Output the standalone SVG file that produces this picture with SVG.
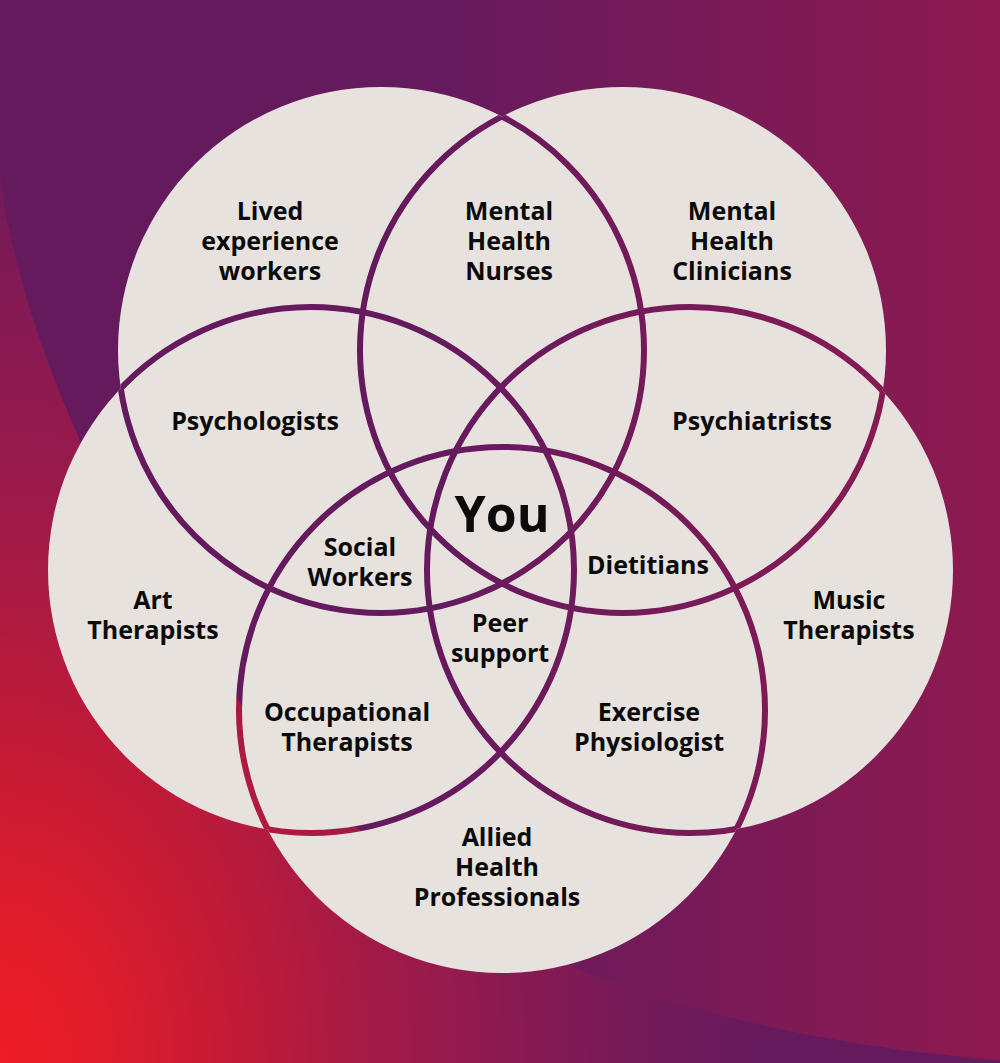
<svg xmlns="http://www.w3.org/2000/svg" width="1000" height="1063" viewBox="0 0 1000 1063">
  <style>
    .lbl { font-family: 'Open Sans', 'Noto Sans', 'DejaVu Sans', sans-serif; font-weight: 700; font-size: 25px; fill: #0b0b0b; text-anchor: middle; }
    .you { font-size: 50px; }
    .disk { fill: #E8E2DF; }
    .gap { fill: none; stroke: #000; stroke-width: 6; }
  </style>
  <defs>
    <linearGradient id="baseGrad" gradientUnits="userSpaceOnUse" x1="450" y1="0" x2="1000" y2="0">
      <stop offset="0" stop-color="#661A5E"/>
      <stop offset="1" stop-color="#8E1A50"/>
    </linearGradient>
    <radialGradient id="redGrad" gradientUnits="userSpaceOnUse" cx="0" cy="0" r="1" gradientTransform="translate(0 1063) scale(760 1050)">
      <stop offset="0" stop-color="#EE1C25"/>
      <stop offset="0.12" stop-color="#E21C2A"/>
      <stop offset="0.3" stop-color="#C41B36"/>
      <stop offset="0.5" stop-color="#A21A47"/>
      <stop offset="0.68" stop-color="#8A1A52"/>
      <stop offset="0.85" stop-color="#731A59"/>
      <stop offset="1" stop-color="#661A5E"/>
    </radialGradient>
    <clipPath id="notTL"><circle cx="623" cy="350" r="263"/><circle cx="311" cy="570" r="263"/><circle cx="690" cy="570" r="263"/><circle cx="502" cy="710" r="263"/></clipPath>
    <clipPath id="notTR"><circle cx="381" cy="350" r="263"/><circle cx="311" cy="570" r="263"/><circle cx="690" cy="570" r="263"/><circle cx="502" cy="710" r="263"/></clipPath>
    <clipPath id="notL"><circle cx="381" cy="350" r="263"/><circle cx="623" cy="350" r="263"/><circle cx="690" cy="570" r="263"/><circle cx="502" cy="710" r="263"/></clipPath>
    <clipPath id="notR"><circle cx="381" cy="350" r="263"/><circle cx="623" cy="350" r="263"/><circle cx="311" cy="570" r="263"/><circle cx="502" cy="710" r="263"/></clipPath>
    <clipPath id="notB"><circle cx="381" cy="350" r="263"/><circle cx="623" cy="350" r="263"/><circle cx="311" cy="570" r="263"/><circle cx="690" cy="570" r="263"/></clipPath>
    <mask id="gaps" maskUnits="userSpaceOnUse" x="0" y="0" width="1000" height="1063">
      <rect x="0" y="0" width="1000" height="1063" fill="#fff"/>
      <g id="outlines">
        <circle class="gap" cx="381" cy="350" r="263" clip-path="url(#notTL)"/>
        <circle class="gap" cx="623" cy="350" r="263" clip-path="url(#notTR)"/>
        <circle class="gap" cx="311" cy="570" r="263" clip-path="url(#notL)"/>
        <circle class="gap" cx="690" cy="570" r="263" clip-path="url(#notR)"/>
        <circle class="gap" cx="502" cy="710" r="263" clip-path="url(#notB)"/>
      </g>
    </mask>
  </defs>

  <g id="background">
    <rect x="0" y="0" width="1000" height="1063" fill="url(#baseGrad)"/>
    <path d="M0 176 C30 420 250 850 600 978 C760 1035 900 1052 1000 1060 L1000 1063 L0 1063 Z" fill="url(#redGrad)"/>
  </g>

  <g id="circles" mask="url(#gaps)">
    <g id="circle-lived"><circle class="disk" cx="381" cy="350" r="263"/></g>
    <g id="circle-clinicians"><circle class="disk" cx="623" cy="350" r="263"/></g>
    <g id="circle-art"><circle class="disk" cx="311" cy="570" r="263"/></g>
    <g id="circle-music"><circle class="disk" cx="690" cy="570" r="263"/></g>
    <g id="circle-allied"><circle class="disk" cx="502" cy="710" r="263"/></g>
  </g>

  <g id="labels">
    <g id="lived-experience"><text class="lbl" x="270" y="220">Lived</text><text class="lbl" x="270" y="250">experience</text><text class="lbl" x="270" y="280">workers</text></g>
    <g id="mental-health-nurses"><text class="lbl" x="509" y="220">Mental</text><text class="lbl" x="509" y="250">Health</text><text class="lbl" x="509" y="280">Nurses</text></g>
    <g id="mental-health-clinicians"><text class="lbl" x="732" y="220">Mental</text><text class="lbl" x="732" y="250">Health</text><text class="lbl" x="732" y="280">Clinicians</text></g>
    <g id="psychologists"><text class="lbl" x="255" y="430">Psychologists</text></g>
    <g id="psychiatrists"><text class="lbl" x="752" y="430">Psychiatrists</text></g>
    <g id="you"><text class="lbl you" x="502" y="532">You</text></g>
    <g id="social-workers"><text class="lbl" x="360" y="556">Social</text><text class="lbl" x="360" y="586">Workers</text></g>
    <g id="dietitians"><text class="lbl" x="648" y="574">Dietitians</text></g>
    <g id="art-therapists"><text class="lbl" x="153" y="609">Art</text><text class="lbl" x="153" y="639">Therapists</text></g>
    <g id="music-therapists"><text class="lbl" x="849" y="609">Music</text><text class="lbl" x="849" y="639">Therapists</text></g>
    <g id="peer-support"><text class="lbl" x="500" y="632">Peer</text><text class="lbl" x="500" y="662">support</text></g>
    <g id="occupational-therapists"><text class="lbl" x="347" y="721">Occupational</text><text class="lbl" x="347" y="751">Therapists</text></g>
    <g id="exercise-physiologist"><text class="lbl" x="649" y="721">Exercise</text><text class="lbl" x="649" y="751">Physiologist</text></g>
    <g id="allied-health"><text class="lbl" x="497" y="846">Allied</text><text class="lbl" x="497" y="876">Health</text><text class="lbl" x="497" y="906">Professionals</text></g>
  </g>
</svg>
